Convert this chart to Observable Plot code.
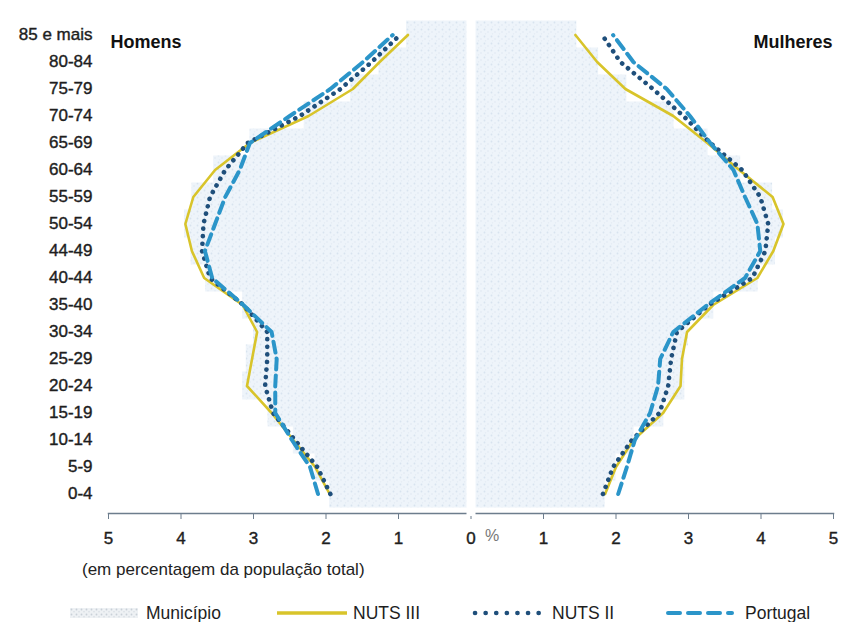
<!DOCTYPE html>
<html>
<head>
<meta charset="utf-8">
<script src="https://cdn.jsdelivr.net/npm/d3@7"></script>
<script src="https://cdn.jsdelivr.net/npm/@observablehq/plot@0.6"></script>
<style>
  html, body { margin: 0; padding: 0; background: #fff; }
  body { position: relative; width: 841px; height: 622px; overflow: hidden;
         font-family: "Liberation Sans", Arial, sans-serif; color: #1e1e1e; }
  #chart { position: absolute; left: 0; top: 0; }
  #caption { position: absolute; left: 82px; top: 560px; font-size: 17px; line-height: 20px; color: #222; white-space: nowrap; }
  #legend { position: absolute; left: 0; top: 598px; }
</style>
</head>
<body>
<div id="chart"></div>
<div id="caption">(em percentagem da população total)</div>
<div id="legend"></div>
<script>
// ---- data (bottom to top) ----
const ages = ["0-4","5-9","10-14","15-19","20-24","25-29","30-34","35-40","40-44","44-49","50-54","55-59","60-64","65-69","70-74","75-79","80-84","85 e mais"];

const municipioH = [1.95, 2.15, 2.45, 2.80, 3.15, 3.10, 3.00, 3.15, 3.66, 3.86, 3.95, 3.85, 3.55, 3.05, 2.30, 1.66, 1.27, 0.89];
const municipioM = [1.85, 2.00, 2.25, 2.66, 2.95, 2.95, 3.00, 3.35, 3.96, 4.20, 4.31, 4.16, 3.72, 3.27, 2.80, 2.15, 1.76, 1.46];

const nuts3H = [1.95, 2.15, 2.45, 2.75, 3.09, 3.02, 2.95, 3.15, 3.68, 3.85, 3.94, 3.83, 3.53, 3.05, 2.24, 1.63, 1.26, 0.87];
const nuts3M = [1.85, 2.00, 2.24, 2.65, 2.89, 2.91, 2.98, 3.34, 3.95, 4.17, 4.31, 4.16, 3.70, 3.26, 2.79, 2.13, 1.74, 1.44];

const nuts2H = [1.94, 2.12, 2.43, 2.73, 2.84, 2.81, 2.81, 3.14, 3.60, 3.71, 3.69, 3.60, 3.39, 3.08, 2.36, 1.80, 1.37, 0.98];
const nuts2M = [1.82, 1.96, 2.22, 2.60, 2.72, 2.76, 2.84, 3.28, 3.88, 4.06, 4.10, 3.99, 3.74, 3.30, 2.93, 2.51, 2.06, 1.81];

const portugalH = [2.11, 2.22, 2.47, 2.70, 2.70, 2.68, 2.75, 3.14, 3.57, 3.67, 3.53, 3.39, 3.19, 3.05, 2.50, 1.94, 1.49, 1.08];
const portugalM = [2.03, 2.15, 2.26, 2.47, 2.58, 2.61, 2.79, 3.26, 3.78, 3.99, 3.95, 3.78, 3.62, 3.30, 3.02, 2.70, 2.24, 1.96];

const xTicks = [-5, -4, -3, -2, -1, 0, 1, 2, 3, 4, 5];
const sexLabels = ["Homens", "Mulheres"];
const seriesNames = ["Município", "NUTS III", "NUTS II", "Portugal"];

// ---- styles ----
const colors = {"NUTS III": "#d8c42a", "NUTS II": "#1f4f7b", "Portugal": "#2b95c9"};

function rows(series, valsH, valsM) {
  return ages.map((age, i) => ({series, sex: "H", age, v: -valsH[i]}))
    .concat(ages.map((age, i) => ({series, sex: "M", age, v: valsM[i]})));
}
const muniRows = rows("Município", municipioH, municipioM);
const nuts3Rows = rows("NUTS III", nuts3H, nuts3M);
const nuts2Rows = rows("NUTS II", nuts2H, nuts2M);
const portRows = rows("Portugal", portugalH, portugalM);

const chart = Plot.plot({
  width: 841,
  height: 555,
  marginLeft: 108,
  marginRight: 8,
  marginTop: 14,
  marginBottom: 42,
  style: {fontFamily: "Liberation Sans, Arial, sans-serif", background: "white", color: "#1e1e1e"},
  x: {domain: [-5, 5], label: null},
  y: {type: "band", domain: ages.slice().reverse(), padding: 0, label: null},
  marks: [
    Plot.barX(muniRows, {x1: 0, x2: "v", y: "age", fill: "url(#muniPat)", insetTop: -0.5, insetBottom: -0.5}),
    Plot.frame({anchor: "bottom", stroke: "#6d7d8d", strokeWidth: 1.5}),
    Plot.axisX({ticks: xTicks, tickFormat: d => Math.abs(d), tickSize: 6, tickPadding: 12, fontSize: 17, stroke: "#6d7d8d", fill: "#1e1e1e", label: null}),
    Plot.axisY({tickSize: 0, tickPadding: 16, fontSize: 17, fill: "#1e1e1e", label: null}),
    Plot.ruleX([0], {stroke: "white", strokeWidth: 9, insetBottom: -3}),
    Plot.text([0], {x: d => d, text: () => "%", frameAnchor: "bottom", dy: 27, dx: 21, fontSize: 16, fill: "#777"}),
    Plot.line(nuts3Rows, {x: "v", y: "age", z: "sex", stroke: colors["NUTS III"], strokeWidth: 2.6}),
    Plot.line(nuts2Rows, {x: "v", y: "age", z: "sex", stroke: colors["NUTS II"], strokeWidth: 4.6, strokeDasharray: "0.1 7.5", strokeLinecap: "round"}),
    Plot.line(portRows, {x: "v", y: "age", z: "sex", stroke: colors["Portugal"], strokeWidth: 4, strokeDasharray: "11 6"}),
    Plot.text([sexLabels[0]], {frameAnchor: "top-left", textAnchor: "start", dx: 2, dy: 21, fontSize: 18, fontWeight: "bold", fill: "#111"}),
    Plot.text([sexLabels[1]], {frameAnchor: "top-right", textAnchor: "end", dx: -1, dy: 21, fontSize: 18, fontWeight: "bold", fill: "#111"})
  ]
});

// speckled pattern for the Município bars
const defs = d3.select(chart).insert("defs", ":first-child");
const pat = defs.append("pattern").attr("id", "muniPat").attr("patternUnits", "userSpaceOnUse").attr("width", 7).attr("height", 7);
pat.append("rect").attr("width", 7).attr("height", 7).attr("fill", "#eef4fa");
pat.append("circle").attr("cx", 1.5).attr("cy", 1.5).attr("r", 0.9).attr("fill", "#d8e3ef");
pat.append("circle").attr("cx", 5).attr("cy", 4).attr("r", 0.8).attr("fill", "#dfe8f2");
pat.append("circle").attr("cx", 2.5).attr("cy", 5.8).attr("r", 0.6).attr("fill", "#e2eaf3");
// heavier tick labels, like the scanned original
d3.select(chart).selectAll('g[aria-label="y-axis tick label"] text, g[aria-label="x-axis tick label"] text')
  .attr("stroke", "#1e1e1e").attr("stroke-width", 0.4);
document.getElementById("chart").appendChild(chart);

// ---- legend ----
const lg = d3.select("#legend").append("svg").attr("width", 841).attr("height", 30)
  .style("font-family", "Liberation Sans, Arial, sans-serif");
const lgDefs = lg.append("defs");
const lp = lgDefs.append("pattern").attr("id", "muniPatL").attr("patternUnits", "userSpaceOnUse").attr("width", 5).attr("height", 5);
lp.append("rect").attr("width", 5).attr("height", 5).attr("fill", "#eef1f4");
lp.append("circle").attr("cx", 1.5).attr("cy", 1.5).attr("r", 0.9).attr("fill", "#c9d0d8");
lp.append("circle").attr("cx", 4).attr("cy", 3.8).attr("r", 0.7).attr("fill", "#d3d9df");
const cy = 15;
const legendItems = [
  {name: seriesNames[0], x0: 70, x1: 138, tx: 146},
  {name: seriesNames[1], x0: 277, x1: 347, tx: 353},
  {name: seriesNames[2], x0: 475, x1: 540, tx: 552},
  {name: seriesNames[3], x0: 668, x1: 732, tx: 745}
];
legendItems.forEach(it => {
  if (it.name === "Município") {
    lg.append("rect").attr("x", it.x0).attr("y", cy - 5).attr("width", it.x1 - it.x0).attr("height", 10).attr("fill", "url(#muniPatL)");
  } else {
    const ln = lg.append("line").attr("x1", it.x0).attr("x2", it.x1).attr("y1", cy).attr("y2", cy).attr("stroke", colors[it.name]);
    if (it.name === "NUTS III") ln.attr("stroke-width", 3.5);
    if (it.name === "NUTS II") ln.attr("stroke-width", 4.6).attr("stroke-dasharray", "0.1 10.5").attr("stroke-linecap", "round");
    if (it.name === "Portugal") ln.attr("stroke-width", 4).attr("stroke-dasharray", "12 8").attr("stroke-linecap", "round");
  }
  lg.append("text").attr("x", it.tx).attr("y", cy).attr("dy", "0.36em").attr("font-size", 17.5).attr("fill", "#1e1e1e").text(it.name);
});
</script>
</body>
</html>
